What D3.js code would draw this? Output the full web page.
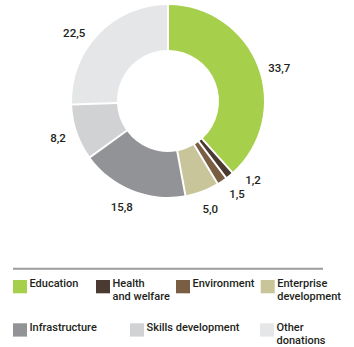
<!DOCTYPE html>
<html>
<head>
<meta charset="utf-8">
<script src="https://cdn.jsdelivr.net/npm/d3@7/dist/d3.min.js"></script>
<style>
  html, body { margin: 0; padding: 0; background: #fff; }
  svg { display: block; font-family: Roboto, "Open Sans", "DejaVu Sans", sans-serif; }
</style>
</head>
<body>
<svg id="chart" width="354" height="347"></svg>
<script>
// Donations by category
const categories = ["Education", "Health and welfare", "Environment", "Enterprise development",
                    "Infrastructure", "Skills development", "Other donations"];
const values = [33.7, 1.2, 1.5, 5.0, 15.8, 8.2, 22.5];
const valueLabels = ["33,7", "1,2", "1,5", "5,0", "15,8", "8,2", "22,5"];
const colors = ["#a6cf4c", "#4b3a32", "#7a5e43", "#c8c59b", "#929396", "#d1d2d4", "#e5e6e7"];

// Legend wording, split over lines as set in the key
const legendLines = [["Education"], ["Health", "and welfare"], ["Environment"], ["Enterprise", "development"],
                     ["Infrastructure"], ["Skills development"], ["Other", "donations"]];

// Layout
const cx = 168, cy = 101, rOuter = 96, rInner = 51, rLabel = 116;
// small angular shifts (degrees) so the thin-slice labels do not collide
const labelShift = [4.5, -7.6, -2.5, -0.7, 1.6, 0.3, -7.9];
const legendPos = [[13, 0], [96, 0], [176, 0], [260.7, 0], [13, 1], [130, 1], [260, 1]];
const textWeight = 500;

const svg = d3.select("#chart");
const data = categories.map((c, i) => ({ name: c, value: values[i], label: valueLabels[i], color: colors[i], i }));

const pie = d3.pie().value(d => d.value).sort(null);
const arcs = pie(data);

const arc = d3.arc()
  .innerRadius(rInner)
  .outerRadius(rOuter)
  .padRadius(rOuter)
  .padAngle(2 / rOuter);

const g = svg.append("g").attr("transform", `translate(${cx},${cy})`);

g.selectAll("path.slice")
  .data(arcs)
  .join("path")
  .attr("class", "slice")
  .attr("d", arc)
  .attr("fill", d => d.data.color);

// value labels around the ring
const labelAngle = d => (d.startAngle + d.endAngle) / 2 + labelShift[d.data.i] * Math.PI / 180;
g.selectAll("text.value")
  .data(arcs)
  .join("text")
  .attr("class", "value")
  .attr("x", d => rLabel * Math.sin(labelAngle(d)))
  .attr("y", d => -rLabel * Math.cos(labelAngle(d)))
  .attr("text-anchor", "middle")
  .attr("dy", "0.35em")
  .attr("font-size", 11.5)
  .attr("font-weight", textWeight)
  .attr("fill", "#231f20")
  .text(d => d.data.label);

// rule above the key
svg.append("line")
  .attr("x1", 13).attr("x2", 323)
  .attr("y1", 268.7).attr("y2", 268.7)
  .attr("stroke", "#9d9d9f")
  .attr("stroke-width", 2);

// key
const rowTop = [280, 323.3];
const key = svg.selectAll("g.key")
  .data(data)
  .join("g")
  .attr("class", "key")
  .attr("transform", d => `translate(${legendPos[d.i][0]},${rowTop[legendPos[d.i][1]]})`);

key.append("rect")
  .attr("width", 14)
  .attr("height", 13.3)
  .attr("fill", d => d.color);

// one text element per line of the key entry
key.selectAll("text")
  .data(d => legendLines[d.i])
  .join("text")
  .attr("x", 16.5)
  .attr("y", (t, j) => 7.3 + j * 13)
  .attr("font-size", 11)
  .attr("font-weight", textWeight)
  .attr("fill", "#231f20")
  .text(t => t);
</script>
</body>
</html>
